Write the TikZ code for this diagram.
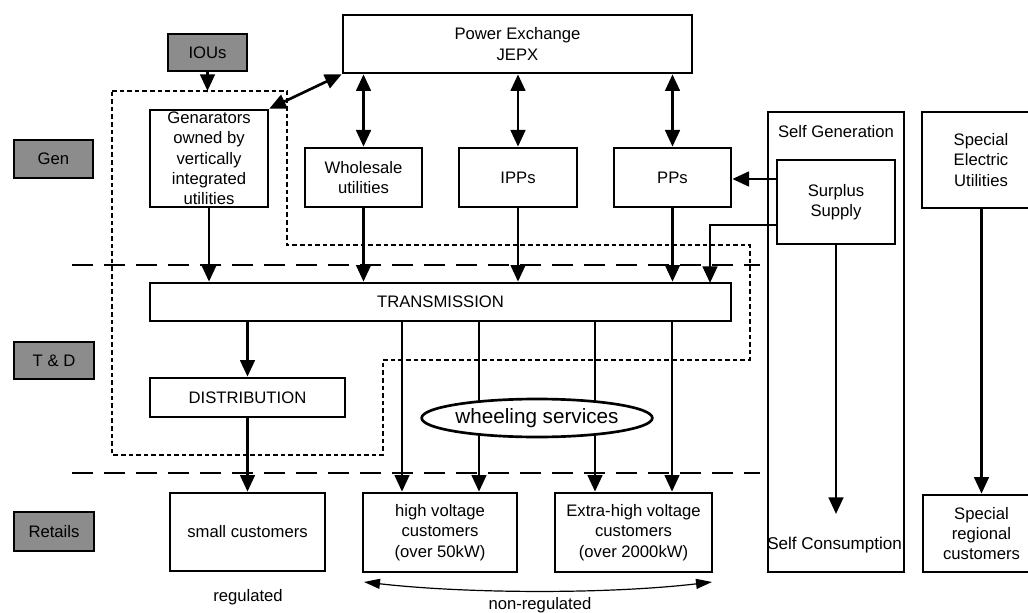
\documentclass[tikz,border=0pt]{standalone}
\usepackage{fontspec}
\setmainfont{Liberation Sans}
\usetikzlibrary{arrows.meta,shapes.geometric,calc}
\newcommand\myfs{\fontsize{12.5}{15.2}\selectfont}
\newcommand\mybigfs{\fontsize{15.5}{18}\selectfont}
\begin{document}
\begin{tikzpicture}[x=0.75pt,y=-0.75pt,
  box/.style={draw,line width=2pt,fill=white,rectangle,inner sep=0pt,align=center,font=\myfs},
  glabel/.style={draw,line width=2pt,fill=black!45,inner sep=0pt,font=\myfs},
  txt/.style={inner sep=0pt,align=center,font=\myfs},
  arr/.style={line width=2pt,-{Triangle[length=12.5pt,width=11pt]}},
  darr/.style={line width=2pt,{Triangle[length=12.5pt,width=11pt]}-{Triangle[length=12.5pt,width=11pt]}},
  region/.style={line width=2pt,dash pattern=on 3.5pt off 2.2pt},
  sep/.style={line width=1.8pt,dash pattern=on 16pt off 8pt},
  rangearr/.style={line width=0.9pt,{Triangle[length=12pt,width=7.5pt]}-{Triangle[length=12pt,width=7.5pt]}}
]
\useasboundingbox (0,0) rectangle (1028,613);
\clip (0,0) rectangle (1028,613);

% separators and region
\draw[sep] (72,265) -- (760,265);
\draw[sep] (72,473) -- (760,473);
\draw[region] (112,91) -- (287,91) -- (287,245) -- (750,245) -- (750,360) -- (383,360) -- (383,455) -- (112,455) -- cycle;
\coordinate (dtop) at (207.5,91);

% side labels
\node[glabel,minimum width=59.25pt,minimum height=27.75pt] (IOUs) at (207.5,52.5) {IOUs};
\node[glabel,minimum width=59.25pt,minimum height=28.5pt] (Gen) at (53.5,159) {Gen};
\node[glabel,minimum width=60pt,minimum height=27.75pt] (TD) at (54,360.5) {T \& D};
\node[glabel,minimum width=60pt,minimum height=29.25pt] (Ret) at (54,531.5) {Retails};

% top boxes
\node[box,minimum width=261.75pt,minimum height=43.5pt] (PX) at (517.5,44) {Power Exchange\\JEPX};
\node[box,minimum width=88.5pt,minimum height=72.75pt] (Genr) at (209,158.5) {};
\node[txt] at (Genr) {Genarators\\owned by\\vertically\\integrated\\utilities};
\node[box,minimum width=87.75pt,minimum height=44.25pt] (Whole) at (363.5,177.5) {Wholesale\\utilities};
\node[box,minimum width=88.5pt,minimum height=44.25pt] (IPPs) at (518,177.5) {IPPs};
\node[box,minimum width=87.75pt,minimum height=44.25pt] (PPs) at (672.5,177.5) {PPs};

% self generation
\node[box,minimum width=102pt,minimum height=345pt] (SelfGen) at (836,342) {};
\node[txt] (SGlab) at (836,132) {Self Generation};
\node[box,minimum width=88.5pt,minimum height=63pt] (Surplus) at (836,202) {Surplus\\Supply};
\node[txt,anchor=west] (SC) at (767,545) {\fontsize{12.8}{15}\selectfont Self Consumption};

% special
\node[box,minimum width=88.5pt,minimum height=72pt] (SEU) at (981,160) {Special\\Electric\\Utilities};
\node[box,minimum width=87.75pt,minimum height=57.75pt] (SRC) at (981.5,533.5) {Special\\regional\\customers};

% T&D
\node[box,minimum width=435.75pt,minimum height=28.5pt] (Trans) at (440.5,302) {TRANSMISSION};
\node[box,minimum width=146.25pt,minimum height=29.25pt] (Dist) at (247.5,397.5) {DISTRIBUTION};

% retail
\node[box,minimum width=116.25pt,minimum height=58.5pt] (small) at (247.5,532) {small customers};
\node[box,minimum width=115.5pt,minimum height=59.25pt] (HV) at (440,532.5) {high voltage\\customers\\(over 50kW)};
\node[box,minimum width=117.75pt,minimum height=59.25pt] (EHV) at (633.5,532.5) {Extra-high voltage\\customers\\(over 2000kW)};

% connectors
\draw[arr] (IOUs.south) -- (dtop);
\draw[darr] (Genr.north east) -- (PX.south west);
\draw[darr] (PX.south -| Whole.north) -- (Whole.north);
\draw[darr] (PX.south -| IPPs.north) -- (IPPs.north);
\draw[darr] (PX.south -| PPs.north) -- (PPs.north);

\draw[arr] (Genr.south) -- (Genr.south |- Trans.north);
\draw[arr] (Whole.south) -- (Whole.south |- Trans.north);
\draw[arr] (IPPs.south) -- (IPPs.south |- Trans.north);
\draw[arr] (PPs.south) -- (PPs.south |- Trans.north);

\coordinate (s1) at (777,179);
\draw[arr] (s1) -- (s1 -| PPs.east);
\coordinate (s2) at (777,225);
\coordinate (t5) at (710,283);
\draw[arr] (s2) -| (t5);
\coordinate (scend) at (836,514);
\draw[arr] (Surplus.south) -- (scend);
\draw[arr] (SEU.south -| SRC.north) -- (SRC.north);

\draw[arr] (Dist.north |- Trans.south) -- (Dist.north);
\draw[arr] (Dist.south) -- (small.north);

\coordinate (c1) at (402,0);
\coordinate (c2) at (479,0);
\coordinate (c3) at (595,0);
\coordinate (c4) at (672,0);
\draw[arr] (Trans.south -| c1) -- (HV.north -| c1);
\draw[arr] (Trans.south -| c2) -- (HV.north -| c2);
\draw[arr] (Trans.south -| c3) -- (EHV.north -| c3);
\draw[arr] (Trans.south -| c4) -- (EHV.north -| c4);

\node[draw,ellipse,line width=2pt,fill=white,inner sep=0pt,minimum width=161.25pt,minimum height=28.5pt,font=\mybigfs] (Wheel) at (537,418) {wheeling services};

% regulation
\coordinate (r1) at (364,582);
\coordinate (r2) at (712,582);
\draw[rangearr] (r1) .. controls (470,594) and (610,594) .. (r2);
\node[txt] (reg) at (248,597) {regulated};
\node[txt] (nonreg) at (540,605) {non-regulated};
\end{tikzpicture}
\end{document}
